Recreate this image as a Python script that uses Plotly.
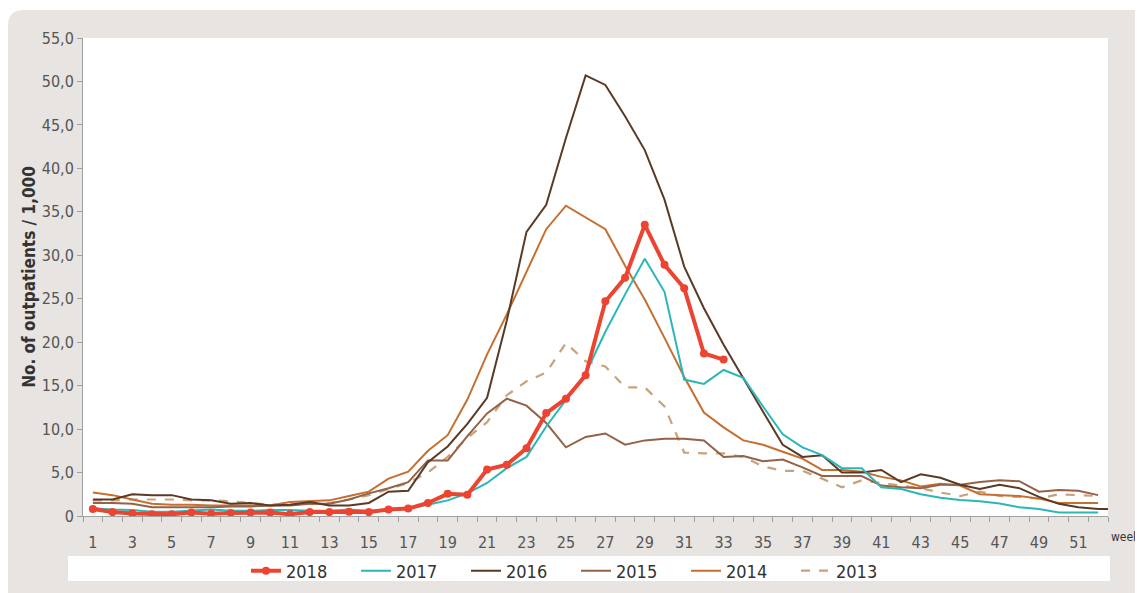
import plotly.graph_objects as go

weeks = list(range(1, 53))
weeks_2016 = list(range(1, 54))

y2018 = [0.8, 0.45, 0.3, 0.2, 0.2, 0.4, 0.25, 0.35, 0.4, 0.4,
         0.2, 0.45, 0.45, 0.5, 0.45, 0.75, 0.85, 1.5, 2.55, 2.45,
         5.35, 5.9, 7.8, 11.85, 13.5, 16.2, 24.7, 27.4, 33.5, 28.9,
         26.2, 18.7, 18.0]
y2017 = [0.9, 0.75, 0.7, 0.5, 0.5, 0.6, 0.75, 0.6, 0.6, 0.7,
         0.7, 0.6, 0.6, 0.75, 0.6, 0.7, 0.9, 1.3, 1.8, 2.6,
         3.8, 5.5, 6.8, 10.3, 13.4, 16.4, 21.2, 25.5, 29.6, 25.8,
         15.7, 15.2, 16.8, 15.9, 12.6, 9.4, 7.9, 7.0, 5.5, 5.5,
         3.3, 3.1, 2.5, 2.1, 1.85, 1.7, 1.45, 1.0, 0.8, 0.4,
         0.4, 0.4]
y2016 = [1.9, 1.9, 2.5, 2.4, 2.4, 1.9, 1.8, 1.4, 1.5, 1.2,
         1.3, 1.6, 1.2, 1.2, 1.5, 2.8, 2.9, 6.2, 8.0, 10.6,
         13.6, 22.5, 32.7, 35.8, 43.5, 50.7, 49.6, 46.0, 42.1, 36.4,
         28.7, 23.9, 19.7, 15.8, 12.0, 8.2, 6.8, 7.0, 5.0, 5.0,
         5.3, 3.9, 4.8, 4.4, 3.6, 3.1, 3.6, 3.2, 2.2, 1.4,
         1.0, 0.8, 0.8]
y2015 = [1.5, 1.5, 1.4, 1.0, 1.0, 1.0, 1.0, 1.1, 1.1, 1.2,
         1.2, 1.4, 1.4, 1.9, 2.6, 3.2, 3.9, 6.4, 6.4, 9.2,
         11.8, 13.5, 12.7, 10.7, 7.9, 9.1, 9.5, 8.2, 8.7, 8.9,
         8.9, 8.7, 6.8, 6.9, 6.3, 6.5, 5.6, 4.6, 4.6, 4.6,
         3.5, 3.3, 3.2, 3.6, 3.6, 3.9, 4.1, 4.0, 2.8, 3.0,
         2.9, 2.4]
y2014 = [2.7, 2.4, 1.9, 1.4, 1.3, 1.3, 1.2, 1.2, 1.2, 1.2,
         1.6, 1.7, 1.8, 2.3, 2.8, 4.3, 5.1, 7.5, 9.3, 13.4,
         18.6, 23.2, 28.0, 33.0, 35.7, 34.3, 33.0, 28.8, 24.9, 20.5,
         16.0, 11.9, 10.2, 8.7, 8.2, 7.4, 6.6, 5.3, 5.3, 5.1,
         4.5, 4.1, 3.4, 3.7, 3.5, 2.5, 2.4, 2.3, 2.0, 1.5,
         1.5, 1.5]
y2013 = [1.8, 1.8, 1.9, 1.9, 1.9, 1.8, 1.8, 1.7, 1.5, 1.3,
         1.3, 1.4, 1.5, 1.9, 2.4, 3.1, 3.8, 5.0, 6.8, 9.0,
         10.8, 13.9, 15.5, 16.5, 19.9, 17.8, 17.2, 14.8, 14.8, 12.6,
         7.3, 7.2, 7.2, 6.8, 5.7, 5.2, 5.2, 4.3, 3.3, 4.1,
         3.8, 3.5, 3.2, 2.7, 2.3, 2.8, 2.3, 2.2, 2.0, 2.5,
         2.4, 2.3]

x_tick_vals = list(range(1, 52, 2))
x_tick_text = [str(v) for v in x_tick_vals]
y_tick_vals = [0, 5, 10, 15, 20, 25, 30, 35, 40, 45, 50, 55]
y_tick_text = ["0", "5,0", "10,0", "15,0", "20,0", "25,0", "30,0",
               "35,0", "40,0", "45,0", "50,0", "55,0"]

FONT = "Liberation Sans Narrow, DejaVu Sans Condensed, Roboto Condensed, Arial Narrow, sans-serif"

fig = go.Figure()
fig.add_trace(go.Scatter(x=weeks, y=y2013, name="2013", mode="lines",
                         line=dict(color="#c9a27c", width=2.2, dash="dash")))
fig.add_trace(go.Scatter(x=weeks, y=y2014, name="2014", mode="lines",
                         line=dict(color="#c56f30", width=2)))
fig.add_trace(go.Scatter(x=weeks, y=y2015, name="2015", mode="lines",
                         line=dict(color="#946246", width=2)))
fig.add_trace(go.Scatter(x=weeks_2016, y=y2016, name="2016", mode="lines",
                         line=dict(color="#5a3a24", width=2)))
fig.add_trace(go.Scatter(x=weeks, y=y2017, name="2017", mode="lines",
                         line=dict(color="#2bb6b8", width=2)))
fig.add_trace(go.Scatter(x=weeks[:len(y2018)], y=y2018, name="2018", mode="lines+markers",
                         line=dict(color="#ec4430", width=4),
                         marker=dict(color="#ec4430", size=8)))

# overlay axis carrying the between-week tick marks
fig.add_trace(go.Scatter(x=[0.5, 52.5], y=[None, None], xaxis="x2", showlegend=False,
                         hoverinfo="skip"))

OFF = 8  # page body margin
W, H = 1135, 600
L, T = 75, 30
R = W - (1108 - OFF)
B = H - (516 - OFF)
pw, ph = W - L - R, H - T - B

def px(X):
    return (X - OFF - L) / pw

def py(Y):
    return (H - B - (Y - OFF)) / ph

x0, x1 = px(8), px(1170)
yt, yb = py(10), py(640)
rx, ry = 16 / pw, 16 / ph
panel = (f"M {x0},{yb} L {x0},{yt - ry} Q {x0},{yt} {x0 + rx},{yt} "
         f"L {x1},{yt} L {x1},{yb} Z")

shapes = [
    dict(type="path", path=panel, xref="paper", yref="paper",
         fillcolor="#e8e4e1", line=dict(width=0), layer="below"),
    dict(type="rect", x0=0, x1=1, y0=0, y1=1, xref="paper", yref="paper",
         fillcolor="white", line=dict(width=0), layer="below"),
    dict(type="rect", x0=px(68), x1=px(1110), y0=py(581), y1=py(556),
         xref="paper", yref="paper", fillcolor="white", line=dict(width=0), layer="below"),
]

fig.update_layout(
    width=W, height=H,
    margin=dict(l=L, r=R, t=T, b=B),
    paper_bgcolor="white",
    plot_bgcolor="rgba(0,0,0,0)",
    font=dict(family=FONT, color="#555555", size=16),
    shapes=shapes,
    showlegend=True,
    legend=dict(orientation="h", x=px(246), y=py(571), xanchor="left", yanchor="middle",
                traceorder="reversed", bgcolor="rgba(0,0,0,0)",
                font=dict(family=FONT, size=18, color="#333333"),
                entrywidth=65, entrywidthmode="pixels"),
    xaxis=dict(range=[0.5, 52.5], tickvals=x_tick_vals, ticktext=x_tick_text,
               ticks="outside", ticklen=4, tickcolor="rgba(0,0,0,0)",
               showgrid=False, zeroline=False, showline=True, linecolor="#a0a0a0",
               linewidth=1, tickfont=dict(size=16, color="#555555"), ticklabelstandoff=8),
    xaxis2=dict(range=[0.5, 52.5], overlaying="x", side="bottom", anchor="y",
                tickvals=[w + 0.5 for w in range(0, 53)], showticklabels=False,
                ticks="outside", ticklen=5, tickcolor="#a0a0a0", showgrid=False,
                zeroline=False, showline=False),
    yaxis=dict(range=[0, 55], tickvals=y_tick_vals, ticktext=y_tick_text,
               ticks="outside", ticklen=5, tickcolor="#a0a0a0",
               showgrid=False, zeroline=False, showline=True, linecolor="#a0a0a0",
               linewidth=1, tickfont=dict(size=16, color="#555555"),
               title=dict(text="<b>No. of outpatients / 1,000</b>", standoff=1,
                          font=dict(size=17, color="#333333"))),
)

fig.add_annotation(text="week", x=px(1109), y=py(537), xref="paper", yref="paper",
                   xanchor="left", yanchor="middle", showarrow=False,
                   font=dict(family=FONT, size=12, color="#333333"))

fig.write_html("out.html")
